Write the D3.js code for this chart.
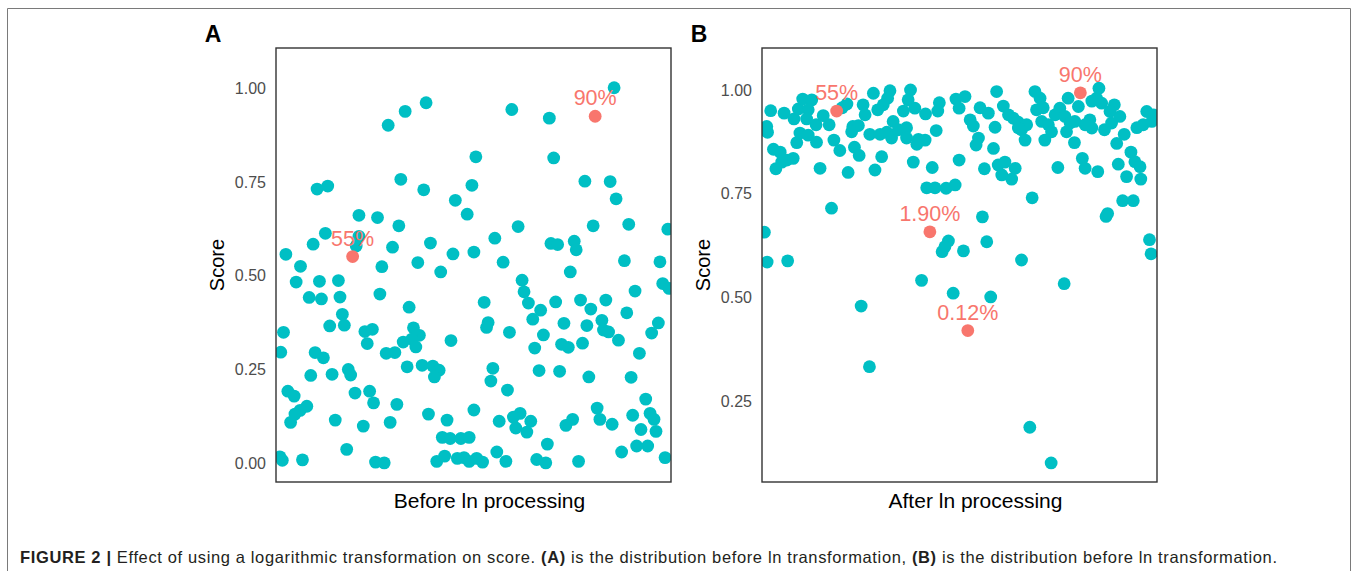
<!DOCTYPE html>
<html>
<head>
<meta charset="utf-8">
<script src="https://cdn.jsdelivr.net/npm/d3@7"></script>
<style>
  body { margin: 0; background: #fff; }
  svg text { font-family: "Liberation Sans", Arial, Helvetica, sans-serif; }
</style>
</head>
<body>
<svg id="chart" width="1356" height="571"></svg>
<script>
// sample position (0-100 along the x axis) and score
const pointsA = [
  [38.0,0.961],[32.7,0.938],[28.4,0.901],[31.6,0.757],[10.4,0.731],[13.1,0.739],[37.4,0.729],[45.4,0.701],
  [48.4,0.664],[49.6,0.741],[21.0,0.661],[25.7,0.655],[31.1,0.633],[12.5,0.613],[9.4,0.584],[2.5,0.557],
  [21.0,0.605],[20.3,0.579],[29.5,0.576],[39.1,0.587],[44.8,0.558],[50.1,0.563],[6.2,0.525],[26.8,0.524],
  [35.9,0.535],[50.6,0.817],[85.6,1.001],[59.7,0.943],[69.2,0.920],[70.3,0.814],[78.2,0.752],[84.6,0.751],
  [86.1,0.705],[61.3,0.631],[80.3,0.633],[89.3,0.637],[99.2,0.624],[55.4,0.600],[69.6,0.586],[71.3,0.583],
  [75.5,0.592],[76.0,0.569],[57.5,0.536],[88.2,0.540],[97.2,0.537],[41.7,0.510],[5.1,0.483],[11.0,0.485],
  [15.8,0.487],[26.3,0.451],[8.4,0.442],[11.5,0.438],[16.2,0.443],[33.7,0.416],[16.8,0.397],[17.3,0.368],
  [13.6,0.366],[1.9,0.349],[22.5,0.351],[24.4,0.357],[23.1,0.319],[34.8,0.361],[36.3,0.341],[34.4,0.331],
  [32.2,0.323],[35.4,0.310],[44.3,0.327],[1.2,0.296],[9.9,0.295],[12.0,0.281],[27.9,0.293],[30.1,0.295],
  [33.2,0.257],[37.0,0.261],[39.7,0.259],[41.3,0.248],[40.1,0.230],[8.8,0.234],[14.2,0.237],[18.3,0.250],
  [18.9,0.235],[3.0,0.192],[4.6,0.179],[20.0,0.187],[23.7,0.192],[24.7,0.161],[30.6,0.157],[7.8,0.152],
  [6.1,0.141],[4.8,0.131],[3.7,0.109],[38.6,0.131],[43.3,0.115],[50.1,0.142],[15.0,0.115],[22.1,0.099],
  [28.9,0.109],[17.9,0.037],[42.1,0.069],[44.1,0.066],[46.8,0.066],[48.9,0.069],[1.0,0.017],[1.6,0.008],
  [6.7,0.009],[25.2,0.003],[27.4,0.001],[40.7,0.005],[42.7,0.019],[45.9,0.013],[47.6,0.015],[48.9,0.005],
  [74.5,0.510],[62.3,0.488],[62.8,0.457],[63.9,0.427],[97.9,0.479],[99.5,0.466],[90.9,0.459],[52.7,0.429],
  [70.8,0.430],[77.1,0.435],[83.5,0.435],[79.7,0.411],[67.0,0.408],[65.0,0.384],[88.8,0.401],[53.7,0.375],
  [53.3,0.362],[72.9,0.373],[78.7,0.367],[82.5,0.381],[82.9,0.355],[84.2,0.350],[96.8,0.374],[95.1,0.347],
  [59.1,0.349],[67.7,0.342],[86.7,0.328],[65.5,0.307],[72.3,0.317],[74.0,0.309],[77.6,0.320],[92.0,0.293],
  [54.9,0.253],[54.4,0.219],[66.6,0.247],[71.8,0.245],[79.2,0.230],[89.9,0.229],[58.6,0.195],[93.6,0.171],
  [61.8,0.133],[60.1,0.123],[60.7,0.094],[63.5,0.083],[64.5,0.112],[56.5,0.112],[81.3,0.147],[82.0,0.117],
  [85.1,0.104],[75.1,0.117],[73.4,0.101],[90.3,0.128],[94.7,0.133],[95.7,0.117],[92.4,0.090],[96.2,0.085],
  [68.7,0.051],[55.9,0.030],[58.2,0.005],[50.8,0.013],[52.3,0.003],[66.0,0.010],[68.3,0.001],[76.6,0.005],
  [87.5,0.030],[91.3,0.046],[94.1,0.046],[98.5,0.015]
];
const pointsB = [
  [2.2,0.950],[5.6,0.944],[8.1,0.930],[9.2,0.954],[10.3,0.978],[12.6,0.976],[11.7,0.952],[11.3,0.930],
  [13.7,0.916],[15.5,0.938],[17.0,0.916],[20.3,0.957],[21.5,0.966],[28.2,0.992],[32.4,0.998],[31.8,0.980],
  [30.7,0.964],[29.3,0.952],[25.6,0.964],[26.1,0.940],[23.0,0.912],[24.4,0.914],[22.7,0.899],[27.3,0.893],
  [29.9,0.893],[31.6,0.898],[32.8,0.884],[33.2,0.924],[34.5,0.904],[35.8,0.949],[36.6,0.909],[36.6,0.884],
  [37.6,1.000],[37.0,0.976],[38.7,0.956],[41.4,0.942],[44.9,0.969],[44.5,0.949],[49.1,0.978],[44.1,0.902],
  [39.6,0.881],[41.3,0.879],[39.2,0.869],[38.3,0.826],[43.1,0.813],[41.7,0.764],[43.8,0.764],[46.6,0.763],
  [48.9,0.771],[49.9,0.831],[1.2,0.912],[1.4,0.898],[2.9,0.857],[4.6,0.850],[3.5,0.810],[5.0,0.826],
  [6.3,0.831],[7.9,0.835],[8.8,0.873],[9.6,0.896],[11.7,0.891],[13.8,0.874],[18.2,0.879],[19.7,0.854],
  [23.4,0.862],[24.6,0.842],[30.3,0.839],[14.7,0.811],[21.8,0.801],[28.6,0.807],[17.6,0.715],
  [51.4,0.984],[49.9,0.956],[55.2,0.957],[57.3,0.944],[59.4,0.996],[52.7,0.928],[53.5,0.913],[61.1,0.961],
  [62.4,0.940],[63.6,0.932],[64.9,0.922],[65.7,0.904],[66.6,0.879],[67.0,0.916],[64.9,0.908],[59.0,0.910],
  [54.8,0.884],[54.2,0.867],[69.1,0.996],[70.4,0.980],[69.5,0.952],[71.2,0.957],[70.8,0.924],[72.5,0.916],
  [71.6,0.879],[73.3,0.899],[74.2,0.940],[75.4,0.956],[77.5,0.980],[80.1,0.960],[85.3,1.004],[84.7,0.980],
  [86.0,0.968],[83.5,0.973],[76.7,0.936],[78.0,0.920],[77.1,0.899],[79.2,0.924],[79.1,0.873],[83.0,0.928],
  [83.5,0.908],[81.8,0.916],[86.7,0.904],[88.5,0.920],[89.2,0.964],[88.1,0.948],[90.6,0.936],[91.7,0.893],
  [89.8,0.871],[94.9,0.909],[96.5,0.916],[97.4,0.948],[99.1,0.940],[98.7,0.924],[58.6,0.859],[56.3,0.810],
  [59.8,0.819],[61.5,0.826],[64.1,0.811],[60.7,0.795],[63.2,0.785],[74.9,0.813],[81.1,0.835],[81.8,0.811],
  [85.0,0.803],[90.2,0.821],[93.4,0.850],[94.4,0.827],[95.7,0.815],[92.3,0.791],[95.9,0.785],[68.4,0.740],
  [91.3,0.733],[94.0,0.733],[87.5,0.702],[87.1,0.695],[55.8,0.694],[0.6,0.657],[1.3,0.585],[6.5,0.588],
  [47.2,0.636],[45.6,0.610],[46.3,0.622],[51.0,0.612],[56.9,0.634],[65.7,0.590],[40.4,0.541],[48.4,0.510],
  [57.9,0.501],[25.1,0.479],[27.2,0.333],[76.5,0.533],[67.8,0.187],[73.2,0.101],[98.1,0.639],[98.5,0.605]
];
// highlighted samples: position, score, label
const markedA = [[19.4,0.551,'55%'],[80.8,0.925,'90%']];
const markedB = [[18.9,0.949,'55%'],[80.6,0.993,'90%'],[42.5,0.658,'1.90%'],[52.1,0.420,'0.12%']];

const panelTags = ['A','B'];
const xTitles = ['Before ln processing','After ln processing'];
const yTicksA = [0, 0.25, 0.5, 0.75, 1.0];
const yTicksB = [0.25, 0.5, 0.75, 1.0];

const TEAL = '#00BFC4', SALMON = '#F8766D';
const svg = d3.select('#chart');

// outer figure frame (open at the bottom)
svg.append('path')
  .attr('d', 'M7.5,571V8.5H1350.5V571')
  .attr('fill', 'none')
  .attr('stroke', '#7a7a7a')
  .attr('stroke-width', 1);

const panels = [
  {left: 276, points: pointsA, marked: markedA, yDomain: [-0.05, 1.107], ticks: yTicksA},
  {left: 762, points: pointsB, marked: markedB, yDomain: [0.055, 1.101], ticks: yTicksB}
];
const plotTop = 48, w = 395, h = 434;

panels.forEach((p, i) => {
  const g = svg.append('g').attr('transform', `translate(${p.left},${plotTop})`);
  const x = d3.scaleLinear().domain([0, 100]).range([0, w]);
  const y = d3.scaleLinear().domain(p.yDomain).range([h, 0]);

  g.append('clipPath').attr('id', 'clip' + i)
    .append('rect').attr('width', w).attr('height', h);

  const plot = g.append('g').attr('clip-path', `url(#clip${i})`);
  plot.selectAll('circle.pt')
    .data(p.points)
    .enter().append('circle')
    .attr('class', 'pt')
    .attr('cx', d => x(d[0]))
    .attr('cy', d => y(d[1]))
    .attr('r', 6.4)
    .attr('fill', TEAL);

  plot.selectAll('circle.mk')
    .data(p.marked)
    .enter().append('circle')
    .attr('class', 'mk')
    .attr('cx', d => x(d[0]))
    .attr('cy', d => y(d[1]))
    .attr('r', 6.4)
    .attr('fill', SALMON);

  g.selectAll('text.lbl')
    .data(p.marked)
    .enter().append('text')
    .attr('class', 'lbl')
    .attr('x', d => x(d[0]))
    .attr('y', d => y(d[1]) - 11)
    .attr('text-anchor', 'middle')
    .attr('font-size', 21.5)
    .attr('fill', SALMON)
    .text(d => d[2]);

  // panel border
  g.append('rect')
    .attr('x', 0).attr('y', 0)
    .attr('width', w).attr('height', h)
    .attr('fill', 'none')
    .attr('stroke', '#333')
    .attr('stroke-width', 1.4);

  const yAxis = d3.axisLeft(y)
    .tickValues(p.ticks)
    .tickSize(0)
    .tickPadding(10)
    .tickFormat(d3.format('.2f'));
  const ya = g.append('g').call(yAxis);
  ya.select('.domain').remove();
  ya.selectAll('text')
    .attr('font-size', 16)
    .attr('fill', '#4d4d4d')
    .style('font-family', '"Liberation Sans", Arial, sans-serif');

  g.append('text')
    .attr('transform', `translate(-52,${h / 2}) rotate(-90)`)
    .attr('text-anchor', 'middle')
    .attr('font-size', 20)
    .attr('fill', '#000')
    .text('Score');

  g.append('text')
    .attr('x', w / 2 + 16)
    .attr('y', h + 26)
    .attr('text-anchor', 'middle')
    .attr('font-size', 21)
    .attr('fill', '#000')
    .text(xTitles[i]);

  g.append('text')
    .attr('x', -63)
    .attr('y', -6)
    .attr('text-anchor', 'middle')
    .attr('font-size', 23)
    .attr('font-weight', 'bold')
    .attr('fill', '#000')
    .text(panelTags[i]);
});

// caption
const cap = svg.append('text')
  .attr('x', 20)
  .attr('y', 563)
  .attr('font-size', 16.5)
  .attr('textLength', 1257)
  .attr('lengthAdjust', 'spacing')
  .attr('fill', '#231f20');
cap.append('tspan').attr('font-weight', 'bold').text('FIGURE 2 | ');
cap.append('tspan').text('Effect of using a logarithmic transformation on score. ');
cap.append('tspan').attr('font-weight', 'bold').text('(A)');
cap.append('tspan').text(' is the distribution before ln transformation, ');
cap.append('tspan').attr('font-weight', 'bold').text('(B)');
cap.append('tspan').text(' is the distribution before ln transformation.');
</script>
</body>
</html>
